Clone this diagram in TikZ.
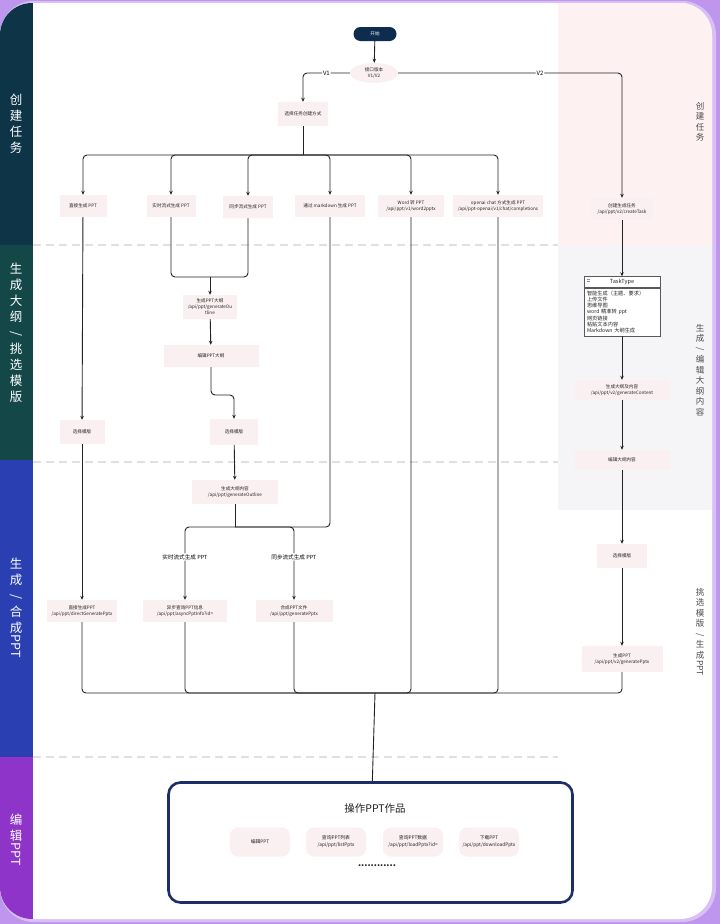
\documentclass[tikz,border=0pt]{standalone}
\usepackage{fontspec}
\setmainfont{Noto Sans CJK SC}
\usepackage{graphicx}
\usepackage{xcolor}
\definecolor{bandteal}{RGB}{14,52,72}
\definecolor{bandgreen}{RGB}{20,72,72}
\definecolor{bandblue}{RGB}{42,64,178}
\definecolor{bandpurple}{RGB}{142,52,200}
\definecolor{glowpurple}{RGB}{190,150,238}
\definecolor{nodepink}{RGB}{251,240,241}
\definecolor{colpink}{RGB}{253,242,241}
\definecolor{colgray}{RGB}{245,245,247}
\definecolor{navy}{RGB}{14,44,78}
\definecolor{boxnavy}{RGB}{28,45,105}
\definecolor{linedark}{RGB}{35,35,35}
\usetikzlibrary{arrows.meta, positioning, shapes.geometric}
\newcommand{\vlat}[1]{\rotatebox[origin=c]{-90}{#1}}

\begin{document}
\begin{tikzpicture}[x=1pt, y=-1pt,
  proc/.style={fill=nodepink, minimum height=22pt, inner sep=2pt, align=center,
               font=\fontsize{4.6}{6}\selectfont, text=linedark},
  opbox/.style={fill=nodepink, rounded corners=8pt, minimum width=60pt, minimum height=29pt,
                align=center, font=\fontsize{4.8}{7}\selectfont, text=linedark},
  link/.style={draw=linedark, line width=0.9pt, rounded corners=4pt},
  arr/.style={link, -{Stealth[length=4pt, width=3.5pt]}},
  bandlbl/.style={text=white, align=center, font=\fontsize{12.5}{16}\selectfont},
  sidelbl/.style={text=black!70, align=center, font=\fontsize{8.5}{10.5}\selectfont},
  sep/.style={draw=black!12, line width=1.3pt, dash pattern=on 8pt off 5pt}]

\useasboundingbox (0,0) rectangle (720,924);

% --- Frame and lanes ---
\fill[glowpurple] (0,0) rectangle (720,924);
\fill[glowpurple!60!white, rounded corners=34pt] (0,1) rectangle (716,922);
\fill[white, rounded corners=32pt] (0,3) rectangle (712,919);
\begin{scope}
  \clip[rounded corners=32pt] (0,3) rectangle (712,919);
  \fill[bandteal] (0,0) rectangle (33,245);
  \fill[bandgreen] (0,245) rectangle (33,460);
  \fill[bandblue] (0,460) rectangle (33,757);
  \fill[bandpurple] (0,757) rectangle (33,924);
  \fill[colpink] (558,0) rectangle (720,245);
  \fill[colgray] (558,245) rectangle (720,510);
\end{scope}

\draw[sep] (33,245) -- (558,245);
\draw[sep] (33,462) -- (558,462);
\draw[sep] (33,757) -- (558,757);

% Lane titles
\node[bandlbl] (lane1) at (16,124) {创\\建\\任\\务};
\node[bandlbl] (lane2) at (16,333) {生\\成\\大\\纲\\\vlat{/}\\挑\\选\\模\\版};
\node[bandlbl] (lane3) at (16,608) {生\\成\\\vlat{/}\\合\\成\\\vlat{PPT}};
\node[bandlbl] (lane4) at (16,840) {编\\辑\\\vlat{PPT}};

\node[sidelbl] (side1) at (700,122) {创\\建\\任\\务};
\node[sidelbl] (side2) at (700,370) {生\\成\\\vlat{/}\\编\\辑\\大\\纲\\内\\容};
\node[sidelbl] (side3) at (700,632) {挑\\选\\模\\版\\\vlat{/}\\生\\成\\\vlat{PPT}};

% --- Start and version ---
\node[fill=navy, text=white, rounded corners=7pt, minimum width=43pt, minimum height=14pt,
      inner sep=1pt, font=\fontsize{4.6}{6}\selectfont] (start) at (375,34) {开始};
\node[proc, ellipse, minimum width=48pt, minimum height=20pt, inner sep=0pt] (ver) at (374,73) {接口版本\\V1/V2};
\node[proc, minimum width=50pt, minimum height=24pt] (mode) at (303,114) {选择任务创建方式};

\draw[arr] (start) -- (ver);
\draw[arr] (ver) -| (mode) node[pos=0.25, fill=white, inner sep=1pt, font=\fontsize{6}{7}\selectfont] {V1};

% --- V1 branches ---
\node[proc, minimum width=47pt] (direct) at (83,206) {直接生成 PPT};
\node[proc, minimum width=49pt] (stream) at (171,206) {实时流式生成 PPT};
\node[proc, minimum width=50pt] (sync) at (248,207) {同步流式生成 PPT};
\node[proc, minimum width=70pt] (markdown) at (330,206) {通过 markdown 生成 PPT};
\node[proc, minimum width=66pt] (word) at (411,206) {Word 转 PPT\\/api/ppt/v1/word2pptx};
\node[proc, minimum width=90pt] (openai) at (498,206) {openai chat 方式生成 PPT\\/api/ppt-openai/v1/chat/completions};

\coordinate (split) at (303,155);
\draw[link] (mode) -- (split);
\foreach \n in {direct, stream, sync, markdown, word, openai}
  \draw[arr] (split) -| (\n);

% --- V2 create task ---
\node[proc, minimum width=62pt] (task) at (622,209) {创建生成任务\\/api/ppt/v2/createTask};
\draw[arr] (ver) -| (task) node[pos=0.317, fill=white, inner sep=1pt, font=\fontsize{6}{7}\selectfont] {V2};

% --- Outline and template (V1) ---
\node[proc, minimum width=54pt, minimum height=24pt] (outline) at (210,307) {生成PPT大纲\\/api/ppt/generateOu\\tline};
\node[proc, minimum width=95pt] (editoutline) at (211,356) {编辑PPT大纲};
\node[proc, minimum width=45pt, minimum height=24pt] (tplA) at (82,432) {选择模版};
\node[proc, minimum width=48pt, minimum height=26pt] (tplB) at (234,432) {选择模版};
\node[proc, minimum width=86pt, minimum height=24pt] (genoutline) at (235,492) {生成大纲内容\\/api/ppt/generateOutline};

\coordinate (merge) at (210,277);
\draw[link] (stream) |- (merge);
\draw[link] (sync) |- (merge);
\draw[arr] (merge) -- (outline);
\draw[arr] (outline) -- (editoutline);
\coordinate (bendA) at (234,395);
\draw[arr] (editoutline) |- (bendA) -- (tplB);
\draw[arr] (tplB) -- (genoutline);
\draw[arr] (direct) -- (tplA);

% --- Generate PPT (V1) ---
\node[proc, minimum width=70pt] (directppt) at (82,611) {直接生成PPT\\/api/ppt/directGeneratePptx};
\node[proc, minimum width=84pt] (asyncinfo) at (185,611) {异步查询PPT信息\\/api/ppt/asyncPptInfo?id=};
\node[proc, minimum width=77pt] (synthppt) at (294,611) {合成PPT文件\\/api/ppt/generatePptx};

\coordinate (split2) at (235,527);
\draw[link] (genoutline) -- (split2);
\draw[link] (markdown) |- (split2);
\draw[arr] (split2) -| (asyncinfo) node[pos=0.706, fill=white, inner sep=1pt, font=\fontsize{5.6}{7}\selectfont] {实时流式生成 PPT};
\draw[arr] (split2) -| (synthppt) node[pos=0.706, fill=white, inner sep=1pt, font=\fontsize{5.6}{7}\selectfont] {同步流式生成 PPT};
\draw[arr] (tplA) -- (directppt);

% --- V2 column ---
\node[draw=black!65, fill=white, minimum width=76pt, minimum height=11pt, inner sep=1pt,
      font=\fontsize{5.6}{7}\selectfont, text=linedark] (tthead) at (622,282) {TaskType};
\node[draw=black!65, fill=white, minimum width=76pt, text width=70pt, inner sep=3pt, anchor=north,
      align=left, font=\fontsize{5.2}{6.2}\selectfont, text=linedark] (ttbody) at (tthead.south)
      {智能生成（主题、要求）\\上传文件\\思维导图\\word 精准转 ppt\\网页链接\\粘贴文本内容\\Markdown 大纲生成};
\draw[black!45, line width=0.4pt] (586.5,279.5) -- (589.5,279.5) (586.5,281) -- (589.5,281);

\node[proc, minimum width=95pt, minimum height=20pt] (gencontent) at (622,390) {生成大纲及内容\\/api/ppt/v2/generateContent};
\node[proc, minimum width=95pt, minimum height=20pt] (editcontent) at (622,460) {编辑大纲内容};
\node[proc, minimum width=50pt, minimum height=24pt] (tplC) at (622,556) {选择模版};
\node[proc, minimum width=81pt, minimum height=26pt] (v2ppt) at (622,659) {生成PPT\\/api/ppt/v2/generatePptx};

\draw[arr] (task) -- (tthead);
\draw[arr] (ttbody) -- (gencontent);
\draw[arr] (gencontent) -- (editcontent);
\draw[arr] (editcontent) -- (tplC);
\draw[arr] (tplC) -- (v2ppt);

% --- Join to works ---
\coordinate (sink) at (375,693);
\foreach \n in {directppt, asyncinfo, synthppt, word, openai, v2ppt}
  \draw[link] (\n) |- (sink);

\node[draw=boxnavy, line width=2.6pt, rounded corners=12pt, minimum width=404pt,
      minimum height=120pt, fill=white] (opsbox) at (370.5,842.5) {};
\draw[link] (sink) -- (opsbox);

\node[font=\fontsize{10.5}{12}\selectfont, text=linedark] (opstitle) at (375,809) {操作PPT作品};
\node[opbox] (opedit) at (260,842) {编辑PPT};
\node[opbox] (oplist) at (336,842) {查询PPT列表\\/api/ppt/listPptx};
\node[opbox] (opload) at (413,842) {查询PPT数据\\/api/ppt/loadPptx?id=};
\node[opbox] (opdown) at (489,842) {下载PPT\\/api/ppt/downloadPptx};
\node[font=\fontsize{9}{10}\selectfont\bfseries, text=linedark] (opmore) at (377,866) {............};

\end{tikzpicture}
\end{document}
